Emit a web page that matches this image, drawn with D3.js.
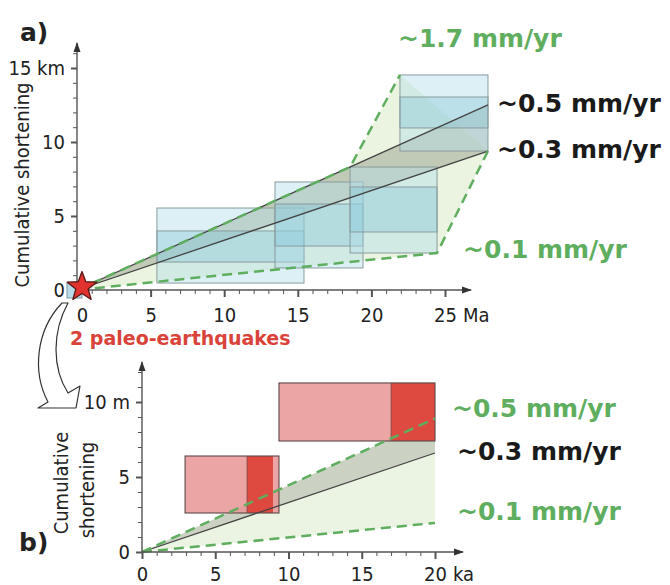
<!DOCTYPE html>
<html>
<head>
<meta charset="utf-8">
<script src="https://cdn.jsdelivr.net/npm/d3@7"></script>
<style>
body { margin: 0; background: #fff; }
svg text { font-family: "DejaVu Sans Condensed", "DejaVu Sans", sans-serif; fill: #222; }
.rate { font-family: "DejaVu Sans", sans-serif; font-weight: bold; font-size: 25px; }
</style>
</head>
<body>
<svg id="fig" width="670" height="585"></svg>
<script>
// ---- panel a : long term (Ma, km)
const boxAgeA   = [[5.43, 15.42], [13.45, 19.43], [18.55, 24.46], [21.94, 27.92]];
const boxShortA = [[0.47, 1.89, 3.99, 5.54], [1.49, 2.97, 5.81, 7.3], [2.5, 3.92, 6.96, 8.31], [9.39, 10.95, 13.04, 14.53]];
const ratesA    = [0.448, 0.336];          // mm/yr, black lines
const endAgeA   = 27.92;
const envelopeA = [[0, 0], [18.55, 8.31], [21.94, 14.53], [27.92, 9.39], [24.46, 2.5]];
const rateLabelsA = ["~1.7 mm/yr", "~0.5 mm/yr", "~0.3 mm/yr", "~0.1 mm/yr"];
const xTicksA = [0, 5, 10, 15, 20, 25];
const yTicksA = [0, 5, 10, 15];

// ---- panel b : paleo-earthquakes (ka, m)
const quakeAgeB  = [[2.94, 9.35], [9.35, 20]];
const quakeBestB = [[7.17, 8.94], [17.0, 20]];
const quakeSlipB = [[2.6, 6.4], [7.4, 11.27]];
const ratesB     = [0.445, 0.33, 0.097];   // mm/yr : upper dashed, black, lower dashed
const endAgeB    = 20;
const rateLabelsB = ["~0.5 mm/yr", "~0.3 mm/yr", "~0.1 mm/yr"];
const xTicksB = [0, 5, 10, 15, 20];
const yTicksB = [0, 5, 10];

const green = "#5fae5f", axisCol = "#555";
const svg = d3.select("#fig");

svg.append("defs").append("marker")
  .attr("id", "arr").attr("viewBox", "0 0 10 10").attr("refX", 9).attr("refY", 5)
  .attr("markerWidth", 10).attr("markerHeight", 10).attr("markerUnits", "userSpaceOnUse")
  .attr("orient", "auto")
  .append("path").attr("d", "M0,1.5L10,5L0,8.5Z").attr("fill", "#333");

const xA = d3.scaleLinear().domain([0, 25]).range([77, 445]);
const yA = d3.scaleLinear().domain([0, 15]).range([290, 68]);
const xB = d3.scaleLinear().domain([0, 20]).range([142, 435]);
const yB = d3.scaleLinear().domain([0, 10]).range([552, 402]);

const line = (x, y) => d3.line().x(d => x(d[0])).y(d => y(d[1]));

function axes(g, x, y, xMax, yMax, xTicks, yTicks, xUnit, yUnit, xTip, yTip, labY) {
  const ax = g.append("g").attr("transform", `translate(0,${y(0)})`)
    .call(d3.axisBottom(x).tickValues(d3.range(0, xMax + 1)).tickSize(4).tickSizeOuter(0)
      .tickFormat(d => xTicks.includes(d) ? d : ""));
  ax.select(".domain").remove();
  ax.selectAll(".tick line").attr("stroke", axisCol).attr("stroke-width", d => xTicks.includes(d) ? 2 : 1)
    .attr("y2", d => xTicks.includes(d) ? 7 : 4);
  ax.selectAll(".tick text").attr("y", labY).attr("dy", 0).attr("font-size", 20)
    .attr("font-family", null).attr("fill", "#222");
  const last = xTicks[xTicks.length - 1];
  ax.append("text").attr("x", x(last) + 18).attr("y", labY).attr("text-anchor", "start")
    .attr("font-size", 20).attr("font-family", null).text(xUnit);

  const ay = g.append("g").attr("transform", `translate(${x(0)},0)`)
    .call(d3.axisLeft(y).tickValues(d3.range(0, yMax + 1)).tickSize(4).tickSizeOuter(0)
      .tickFormat(d => yTicks.includes(d) ? (d === yTicks[yTicks.length - 1] ? d + " " + yUnit : d) : ""));
  ay.select(".domain").remove();
  ay.selectAll(".tick line").attr("stroke", axisCol).attr("stroke-width", d => yTicks.includes(d) ? 2 : 1)
    .attr("x2", d => yTicks.includes(d) ? -6 : -4);
  ay.selectAll(".tick text").attr("x", -12).attr("font-size", 20)
    .attr("font-family", null).attr("fill", "#222");

  g.append("line").attr("x1", x(0)).attr("x2", xTip).attr("y1", y(0)).attr("y2", y(0))
    .attr("stroke", axisCol).attr("stroke-width", 1.4).attr("marker-end", "url(#arr)");
  g.append("line").attr("x1", x(0)).attr("x2", x(0)).attr("y1", y(0)).attr("y2", yTip)
    .attr("stroke", axisCol).attr("stroke-width", 1.4).attr("marker-end", "url(#arr)");
  return ax;
}

// ================= panel a
const gA = svg.append("g");
const lA = line(xA, yA);

gA.append("path").attr("d", lA(envelopeA) + "Z").attr("fill", "#e3f0d6").attr("opacity", 0.75);
gA.append("path")
  .attr("d", lA([[0, 0], [endAgeA, ratesA[0] * endAgeA], [endAgeA, ratesA[1] * endAgeA]]) + "Z")
  .attr("fill", "#9ea596").attr("opacity", 0.55);

boxAgeA.forEach((a, i) => {
  const s = boxShortA[i];
  gA.append("rect").attr("x", xA(a[0])).attr("width", xA(a[1]) - xA(a[0]))
    .attr("y", yA(s[3])).attr("height", yA(s[0]) - yA(s[3]))
    .attr("fill", "#b4dde8").attr("fill-opacity", 0.45)
    .attr("stroke", "#8a9c9e").attr("stroke-width", 1);
  gA.append("rect").attr("x", xA(a[0])).attr("width", xA(a[1]) - xA(a[0]))
    .attr("y", yA(s[2])).attr("height", yA(s[1]) - yA(s[2]))
    .attr("fill", "#7fc2d3").attr("fill-opacity", 0.35)
    .attr("stroke", "#8a9c9e").attr("stroke-width", 1);
});

ratesA.forEach(r => {
  gA.append("path").attr("d", lA([[0, 0], [endAgeA, r * endAgeA]]))
    .attr("stroke", "#444").attr("stroke-width", 1.3).attr("fill", "none");
});
gA.append("path").attr("d", lA(envelopeA.slice(0, 3)))
  .attr("stroke", green).attr("stroke-width", 2.5).attr("stroke-dasharray", "10,6").attr("fill", "none");
gA.append("path").attr("d", lA([envelopeA[3], envelopeA[4], envelopeA[0]]))
  .attr("stroke", green).attr("stroke-width", 2.5).attr("stroke-dasharray", "10,6").attr("fill", "none");

const axA = axes(gA, xA, yA, 25, 16, xTicksA, yTicksA, "Ma", "km", 471, 43, 32);
axA.selectAll(".tick text").filter(d => d === 0).attr("x", 5);

// origin box and star
gA.append("rect").attr("x", xA(0) - 10).attr("y", yA(0) - 7).attr("width", 15).attr("height", 15)
  .attr("fill", "#b7dbe8").attr("stroke", "#7c9aa6").attr("stroke-width", 1);
const star = d3.range(10).map(i => {
  const r = i % 2 ? 6.5 : 15.5, t = -Math.PI / 2 + i * Math.PI / 5;
  return [xA(0) + 5 + r * Math.cos(t), yA(0) - 3 + r * Math.sin(t)];
});
gA.append("path").attr("d", "M" + star.join("L") + "Z")
  .attr("fill", "#e0332f").attr("stroke", "#5a1a18").attr("stroke-width", 1.3).attr("stroke-linejoin", "round");

gA.append("text").attr("class", "rate").attr("x", xA(21.94) - 2).attr("y", 47).style("fill", green).text(rateLabelsA[0]);
gA.append("text").attr("class", "rate").attr("x", xA(endAgeA) + 9).attr("y", 112).style("fill", "#1a1a1a").text(rateLabelsA[1]);
gA.append("text").attr("class", "rate").attr("x", xA(endAgeA) + 9).attr("y", 158).style("fill", "#1a1a1a").text(rateLabelsA[2]);
gA.append("text").attr("class", "rate").attr("x", xA(24.46) + 26).attr("y", 258).style("fill", green).text(rateLabelsA[3]);

gA.append("text").attr("x", 20).attr("y", 41).attr("font-size", 25).attr("font-weight", "bold")
  .style("font-family", "DejaVu Sans, sans-serif").text("a)");
gA.append("text").attr("transform", "translate(29,185) rotate(-90)").attr("text-anchor", "middle")
  .attr("font-size", 20).text("Cumulative shortening");
gA.append("text").attr("x", 70).attr("y", 345).attr("font-size", 19).attr("font-weight", "bold")
  .style("font-family", "DejaVu Sans, sans-serif").style("fill", "#d9433a").text("2 paleo-earthquakes");

// curved zoom arrow
svg.append("path")
  .attr("d", "M62,303 C36,330 32,372 48,402 L38,408 L76,408 L80,386 L68,393 C52,368 52,332 68,303 Z")
  .attr("fill", "#fff").attr("stroke", "#333").attr("stroke-width", 1.2).attr("stroke-linejoin", "round");

// ================= panel b
const gB = svg.append("g");
const lB = line(xB, yB);

gB.append("path").attr("d", lB([[0, 0], [endAgeB, ratesB[0] * endAgeB], [endAgeB, ratesB[2] * endAgeB]]) + "Z")
  .attr("fill", "#e3f0d6").attr("opacity", 0.7);
gB.append("path").attr("d", lB([[0, 0], [endAgeB, ratesB[0] * endAgeB], [endAgeB, ratesB[1] * endAgeB]]) + "Z")
  .attr("fill", "#b3b7aa").attr("opacity", 0.55);

quakeAgeB.forEach((a, i) => {
  const s = quakeSlipB[i], b = quakeBestB[i];
  gB.append("rect").attr("x", xB(a[0])).attr("width", xB(a[1]) - xB(a[0]))
    .attr("y", yB(s[1])).attr("height", yB(s[0]) - yB(s[1]))
    .attr("fill", "#e79595").attr("fill-opacity", 0.85);
  gB.append("rect").attr("x", xB(b[0])).attr("width", xB(b[1]) - xB(b[0]))
    .attr("y", yB(s[1])).attr("height", yB(s[0]) - yB(s[1]))
    .attr("fill", "#dc3a2e").attr("fill-opacity", 0.85);
  gB.append("rect").attr("x", xB(a[0])).attr("width", xB(a[1]) - xB(a[0]))
    .attr("y", yB(s[1])).attr("height", yB(s[0]) - yB(s[1]))
    .attr("fill", "none").attr("stroke", "#5a4848").attr("stroke-width", 1.1);
  gB.append("line").attr("x1", xB(b[0])).attr("x2", xB(b[0])).attr("y1", yB(s[1])).attr("y2", yB(s[0]))
    .attr("stroke", "#7a4a48").attr("stroke-width", 0.8);
});

gB.append("path").attr("d", lB([[0, 0], [endAgeB, ratesB[1] * endAgeB]]))
  .attr("stroke", "#444").attr("stroke-width", 1.3).attr("fill", "none");
[ratesB[0], ratesB[2]].forEach(r => {
  gB.append("path").attr("d", lB([[0, 0], [endAgeB, r * endAgeB]]))
    .attr("stroke", green).attr("stroke-width", 2.5).attr("stroke-dasharray", "10,6").attr("fill", "none");
});

axes(gB, xB, yB, 20, 12, xTicksB, yTicksB, "ka", "m", 463, 362, 29);

gB.append("text").attr("class", "rate").attr("x", xB(endAgeB) + 17).attr("y", 417).style("fill", green).text(rateLabelsB[0]);
gB.append("text").attr("class", "rate").attr("x", xB(endAgeB) + 22).attr("y", 460).style("fill", "#1a1a1a").text(rateLabelsB[1]);
gB.append("text").attr("class", "rate").attr("x", xB(endAgeB) + 22).attr("y", 520).style("fill", green).text(rateLabelsB[2]);

gB.append("text").attr("x", 19).attr("y", 551).attr("font-size", 25).attr("font-weight", "bold")
  .style("font-family", "DejaVu Sans, sans-serif").text("b)");
gB.append("text").attr("transform", "translate(68,483) rotate(-90)").attr("text-anchor", "middle")
  .attr("font-size", 20).text("Cumulative");
gB.append("text").attr("transform", "translate(94,490) rotate(-90)").attr("text-anchor", "middle")
  .attr("font-size", 20).text("shortening");
</script>
</body>
</html>
